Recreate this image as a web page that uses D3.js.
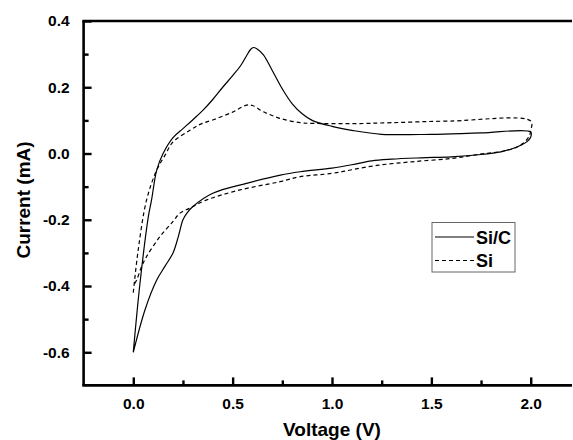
<!DOCTYPE html>
<html>
<head>
<meta charset="utf-8">
<script src="https://cdn.jsdelivr.net/npm/d3@7/dist/d3.min.js"></script>
<style>
html,body{margin:0;padding:0;background:#fff;overflow:hidden;}
svg{display:block;font-family:"Liberation Sans",Arial,sans-serif;}
</style>
</head>
<body>
<svg id="chart" width="573" height="440"></svg>
<script>
const seriesNames = ["Si/C", "Si"];
const siC_V = [0,0.034,0.076,0.092,0.118,0.15,0.2,0.25,0.3,0.35,0.4,0.45,0.5,0.54,0.57,0.59,0.605,0.625,0.655,0.7,0.75,0.8,0.85,0.9,1.0,1.1,1.25,1.5,1.75,2.0,
  2.0,1.98,1.95,1.9,1.85,1.75,1.6,1.45,1.3,1.2,1.1,1.0,0.84,0.74,0.57,0.4,0.3,0.27,0.25,0.227,0.2,0.16,0.118,0.06,0];
const siC_I = [-0.6,-0.39,-0.19,-0.14,-0.05,0.0,0.048,0.075,0.102,0.13,0.163,0.20,0.235,0.265,0.295,0.314,0.32,0.315,0.298,0.25,0.195,0.15,0.12,0.10,0.082,0.07,0.058,0.058,0.062,0.065,
  0.05,0.035,0.025,0.013,0.005,-0.003,-0.01,-0.013,-0.017,-0.022,-0.034,-0.044,-0.055,-0.065,-0.09,-0.12,-0.16,-0.18,-0.2,-0.25,-0.30,-0.34,-0.382,-0.47,-0.6];
const si_V = [0,0.025,0.067,0.118,0.16,0.2,0.285,0.336,0.403,0.5,0.571,0.6,0.655,0.739,0.84,0.906,1.09,1.3,1.595,2.0,
  2.0,1.99,1.96,1.93,1.85,1.746,1.6,1.4,1.225,1.1,1.0,0.84,0.739,0.537,0.37,0.285,0.235,0.2,0.134,0.067,0.042,0.017,0];
const si_I = [-0.42,-0.29,-0.14,-0.05,-0.005,0.035,0.07,0.088,0.102,0.125,0.146,0.145,0.126,0.106,0.093,0.091,0.09,0.093,0.098,0.098,
  0.068,0.05,0.03,0.019,0.006,-0.002,-0.015,-0.025,-0.036,-0.049,-0.06,-0.07,-0.085,-0.11,-0.14,-0.165,-0.18,-0.205,-0.251,-0.311,-0.341,-0.382,-0.40];
const xTicks = [0, 0.5, 1.0, 1.5, 2.0];
const xMinorTicks = [0.25, 0.75, 1.25, 1.75];
const yTicks = [-0.6, -0.4, -0.2, 0.0, 0.2, 0.4];
const yMinorTicks = [-0.5, -0.3, -0.1, 0.1, 0.3];
const xTitle = "Voltage (V)";
const yTitle = "Current (mA)";

const svg = d3.select("#chart");
const x = d3.scaleLinear().domain([-0.25, 2.25]).range([83.6, 580.4]);
const y = d3.scaleLinear().domain([-0.7, 0.4]).range([385.4, 21]);

const line = d3.line().x(d => x(d[0])).y(d => y(d[1])).curve(d3.curveCatmullRom.alpha(0.5));
const solidData = siC_V.map((v,i) => [v, siC_I[i]]);
const dashData = si_V.map((v,i) => [v, si_I[i]]);

svg.append("path").attr("d", line(solidData)).attr("fill","none").attr("stroke","#000").attr("stroke-width",1.2);
svg.append("path").attr("d", line(dashData)).attr("fill","none").attr("stroke","#000").attr("stroke-width",1.2).attr("stroke-dasharray","4,3");

const x0 = x.range()[0], y0 = y.range()[0], y1 = y.range()[1];
const frame = svg.append("g").attr("stroke","#000").attr("stroke-width",2.6);
frame.append("line").attr("x1", x0 - 1.3).attr("x2", 572).attr("y1", y1).attr("y2", y1);
frame.append("line").attr("x1", x0 - 1.3).attr("x2", 572).attr("y1", y0).attr("y2", y0);
frame.append("line").attr("x1", x0).attr("x2", x0).attr("y1", y1).attr("y2", y0);

const xAxis = d3.axisBottom(x).tickValues(xTicks).tickSize(-8).tickPadding(13).tickFormat(d3.format(".1f"));
const gx = svg.append("g").attr("transform", `translate(0,${y0})`).call(xAxis);
gx.select(".domain").remove();
gx.selectAll(".tick line").attr("stroke-width",2.4);
gx.selectAll(".tick text").attr("font-size","15.5px").attr("font-weight","bold").attr("fill","#000")
  .attr("font-family","'Liberation Sans',Arial,sans-serif");
const gxm = svg.append("g").attr("transform", `translate(0,${y0})`)
  .call(d3.axisBottom(x).tickValues(xMinorTicks).tickSize(-5).tickFormat(""));
gxm.select(".domain").remove();
gxm.selectAll(".tick line").attr("stroke-width",2.4);

const yAxis = d3.axisLeft(y).tickValues(yTicks).tickSize(-8).tickPadding(14).tickFormat(d3.format(".1f"));
const gy = svg.append("g").attr("transform", `translate(${x0},0)`).call(yAxis);
gy.select(".domain").remove();
gy.selectAll(".tick line").attr("stroke-width",2.4);
gy.selectAll(".tick text").attr("font-size","15.5px").attr("font-weight","bold").attr("fill","#000")
  .attr("font-family","'Liberation Sans',Arial,sans-serif").text(d => d3.format(".1f")(d).replace("−","-"));
const gym = svg.append("g").attr("transform", `translate(${x0},0)`)
  .call(d3.axisLeft(y).tickValues(yMinorTicks).tickSize(-5).tickFormat(""));
gym.select(".domain").remove();
gym.selectAll(".tick line").attr("stroke-width",2.4);

svg.append("text").attr("x", 332).attr("y", 436).attr("text-anchor","middle")
  .attr("font-size","19px").attr("font-weight","bold").text(xTitle);
svg.append("text").attr("transform","translate(30,200) rotate(-90)").attr("text-anchor","middle")
  .attr("font-size","19px").attr("font-weight","bold").text(yTitle);

const lg = svg.append("g");
lg.append("rect").attr("x",432).attr("y",222.5).attr("width",83).attr("height",49.5)
  .attr("fill","#fff").attr("stroke","#666").attr("stroke-width",1);
const legendRows = [{name: seriesNames[0], dash: null, yy: 237}, {name: seriesNames[1], dash: "4,3", yy: 260.5}];
legendRows.forEach(r => {
  lg.append("line").attr("x1",435).attr("x2",474).attr("y1",r.yy).attr("y2",r.yy)
    .attr("stroke","#000").attr("stroke-width",1.2).attr("stroke-dasharray", r.dash);
  lg.append("text").attr("x",476).attr("y",r.yy+6.5).attr("font-size","18px").attr("font-weight","bold").text(r.name);
});
</script>
</body>
</html>
